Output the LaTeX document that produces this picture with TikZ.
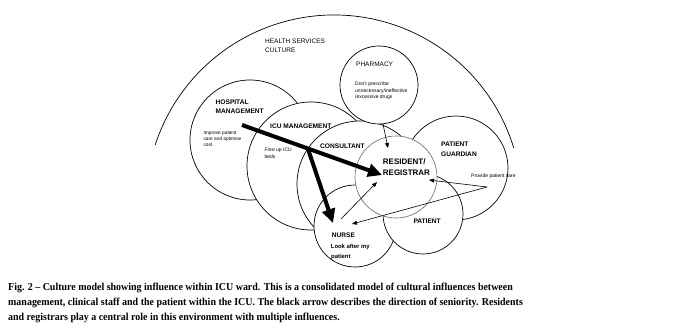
\documentclass[tikz,border=0pt]{standalone}
\usepackage{fontspec}
\setmainfont{Liberation Serif}
\setsansfont{Liberation Sans}
\newfontfamily\capfont[FakeStretch=0.94]{Liberation Serif}
\usetikzlibrary{arrows.meta,calc}
\tikzset{
  bub/.style={circle, draw, fill=white, line width=0.7pt, inner sep=0pt},
  lbl/.style={anchor=base west, inner sep=0pt, font=\sffamily\bfseries\fontsize{6.6}{7}\selectfont},
  small/.style={anchor=base west, inner sep=0pt, font=\sffamily\fontsize{5}{6}\selectfont},
  thick arrow/.style={line width=4pt, -{Triangle[length=14pt,width=13pt]}},
  thin arrow/.style={line width=0.6pt, -{Triangle[length=5pt,width=4pt]}},
  captext/.style={anchor=base west, inner sep=0pt, font=\capfont\bfseries\fontsize{10.6}{12}\selectfont}
}
\begin{document}
\begin{tikzpicture}[x=1pt,y=1pt]
\useasboundingbox[fill=white] (0,0) rectangle (680,-334);
% health services arc
\coordinate (hc) at (334,-203);
\draw[line width=0.7pt] ($(hc)+(17:188)$) arc[start angle=17, end angle=162, radius=188];
\node[small, font=\sffamily\fontsize{6.5}{7}\selectfont] (hs1) at (265,-44) {HEALTH SERVICES};
\node[small, font=\sffamily\fontsize{6.5}{7}\selectfont] (hs2) at (265,-53) {CULTURE};
% circles
\node[bub, minimum size=120pt] (hosp) at (250,-140) {};
\node[bub, minimum size=128pt] (icu) at (311,-166) {};
\node[bub, minimum size=126pt] (cons) at (360,-184) {};
\node[bub, minimum size=78pt] (phar) at (379,-85) {};
\node[bub, minimum size=104pt] (guard) at (456,-168) {};
\node[bub, minimum size=82pt] (nurse) at (355,-226) {};
\node[bub, minimum size=80pt] (pat) at (423,-214) {};
\node[bub, minimum size=82pt, draw=black!60, line width=0.6pt] (res) at (396,-177) {};
% labels
\node[small, font=\sffamily\fontsize{6.5}{7}\selectfont] (tph) at (356,-66.5) {PHARMACY};
\node[small] (tph1) at (355,-86) {Don't prescribe};
\node[small] (tph2) at (355,-92.5) {unnecessary/ineffective};
\node[small] (tph3) at (355,-98.5) {/excessive drugs};
\node[lbl] (th1) at (215.5,-105) {HOSPITAL};
\node[lbl] (th2) at (215.5,-114) {MANAGEMENT};
\node[small, font=\sffamily\fontsize{4.8}{6}\selectfont] (th3) at (203.3,-134.5) {Improve patient};
\node[small, font=\sffamily\fontsize{4.8}{6}\selectfont] (th4) at (203.3,-140.5) {care and optimise};
\node[small, font=\sffamily\fontsize{4.8}{6}\selectfont] (th5) at (203.3,-146.5) {cost};
\node[lbl] (ti1) at (270,-129) {ICU MANAGEMENT};
\node[small] (ti2) at (264.3,-152) {Free up ICU};
\node[small] (ti3) at (264.3,-158.5) {beds};
\node[lbl] (tc) at (320,-149) {CONSULTANT};
\node[lbl, font=\sffamily\bfseries\fontsize{8}{9}\selectfont] (tr1) at (382.7,-164.3) {RESIDENT/};
\node[lbl, font=\sffamily\bfseries\fontsize{8}{9}\selectfont] (tr2) at (382.7,-175.7) {REGISTRAR};
\node[lbl] (tg1) at (441,-146.7) {PATIENT};
\node[lbl] (tg2) at (441,-156.3) {GUARDIAN};
\node[small] (tg3) at (471,-177) {Provide patient care};
\node[lbl] (tp) at (413.3,-223.3) {PATIENT};
\node[lbl] (tn) at (331.7,-237.7) {NURSE};
\node[lbl, font=\sffamily\bfseries\fontsize{5.9}{7}\selectfont] (tn1) at (330.7,-248.7) {Look after my};
\node[lbl, font=\sffamily\bfseries\fontsize{5.9}{7}\selectfont] (tn2) at (331,-258.5) {patient};
% arrows
\coordinate (s) at (242,-125);
\coordinate (e) at (382,-175);
\coordinate (br) at ($(s)!0.47!(e)$);
\coordinate (ne) at (333,-223);
\draw[thick arrow] (s) -- (e);
\draw[thick arrow] (br) -- (ne);
\coordinate (p1) at (383,-124);
\coordinate (p2) at (388,-148);
\draw[thin arrow] (p1) -- (p2);
\coordinate (n1) at (341,-219);
\coordinate (n2) at (377,-182);
\draw[thin arrow] (n1) -- (n2);
\coordinate (apex) at (487,-187);
\coordinate (r1) at (429,-180);
\coordinate (n3) at (352,-224);
\draw[thin arrow] (apex) -- (r1);
\draw[thin arrow] (apex) -- (n3);
% caption
\node[captext] (c1) at (8,-290) {Fig. 2 – Culture model showing influence within ICU ward. This is a consolidated model of cultural influences between};
\node[captext] (c2) at (8,-305) {management, clinical staff and the patient within the ICU. The black arrow describes the direction of seniority. Residents};
\node[captext] (c3) at (8,-320) {and registrars play a central role in this environment with multiple influences.};
\end{tikzpicture}
\end{document}
